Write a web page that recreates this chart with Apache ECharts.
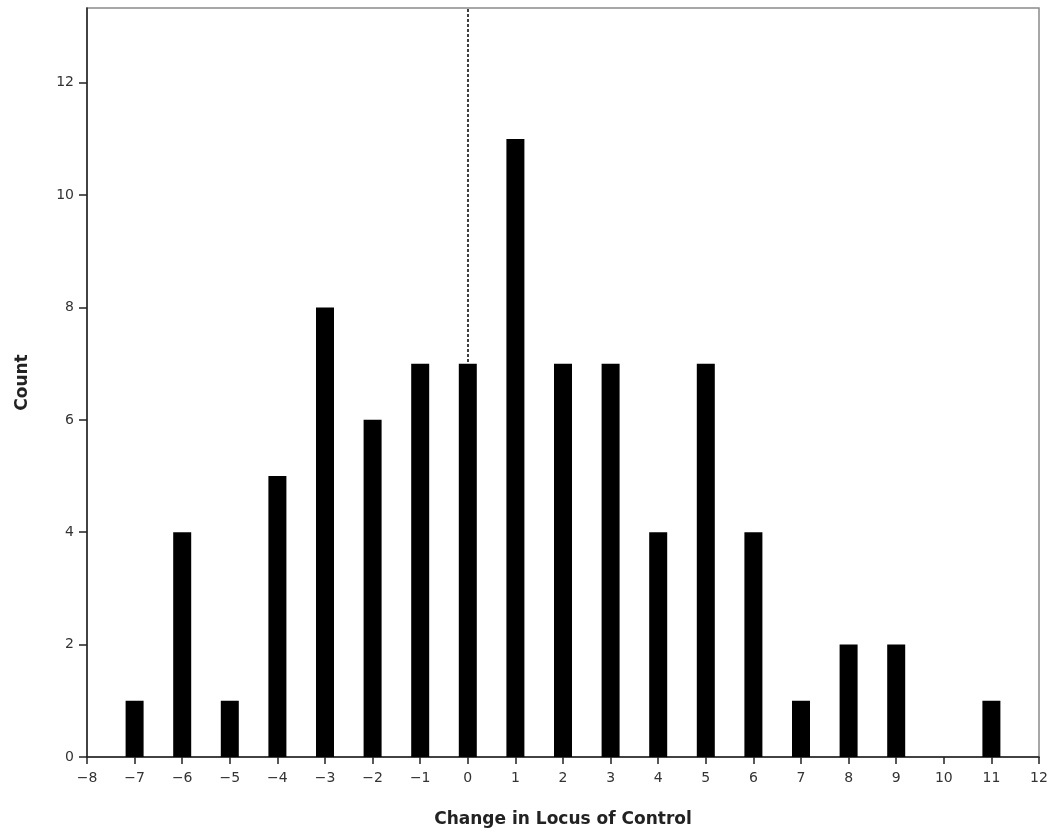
<!DOCTYPE html>
<html>
<head>
<meta charset="utf-8">
<script src="https://cdn.jsdelivr.net/npm/echarts@6/dist/echarts.min.js"></script>
<style>html,body{margin:0;padding:0;background:#fff}#c{width:1055px;height:838px}</style>
</head>
<body>
<div id="c"></div>
<script>
const categories = [-7,-6,-5,-4,-3,-2,-1,0,1,2,3,4,5,6,7,8,9,10,11];
const counts = [1,4,1,5,8,6,7,7,11,7,7,4,7,4,1,2,2,0,1];
const xTicks = [-8,-7,-6,-5,-4,-3,-2,-1,0,1,2,3,4,5,6,7,8,9,10,11,12];
const yTicks = [0,2,4,6,8,10,12];

const chart = echarts.init(document.getElementById('c'));
const font = 'DejaVu Sans, Verdana, sans-serif';
chart.setOption({
  animation: false,
  grid: {left: 87, right: 16, top: 8, bottom: 81, show: true, borderColor: '#8a8a8a', borderWidth: 1.5},
  xAxis: {
    type: 'value', min: -8, max: 12, interval: 1,
    name: 'Change in Locus of Control', nameLocation: 'middle', nameGap: 54,
    nameTextStyle: {fontFamily: font, fontWeight: 'bold', fontSize: 17, color: '#222'},
    axisLine: {show: true, onZero: false, lineStyle: {color: '#222', width: 1.5}},
    axisTick: {show: true, length: 7, lineStyle: {color: '#222', width: 1.5}},
    axisLabel: {fontFamily: font, fontSize: 14, color: '#333', margin: 14,
      formatter: v => xTicks.includes(v) ? String(v).replace('-', '\u2212') : ''},
    splitLine: {show: false}
  },
  yAxis: {
    type: 'value', min: 0, max: 13.33, interval: 2,
    name: 'Count', nameLocation: 'middle', nameGap: 56, nameRotate: 90,
    nameTextStyle: {fontFamily: font, fontWeight: 'bold', fontSize: 17, color: '#222'},
    axisLine: {show: true, onZero: false, lineStyle: {color: '#222', width: 1.5}},
    axisTick: {show: true, length: 8, lineStyle: {color: '#222', width: 1.5}, customValues: yTicks},
    axisLabel: {fontFamily: font, fontSize: 14, color: '#333', margin: 13, customValues: yTicks},
    splitLine: {show: false}
  },
  series: [{
    type: 'bar',
    data: categories.map((c, i) => [c, counts[i]]),
    barWidth: 18,
    itemStyle: {color: '#000'},
    markLine: {
      silent: true, symbol: 'none', z: 1,
      label: {show: false},
      lineStyle: {color: '#000', type: [3, 2], width: 1.5},
      data: [{xAxis: 0}]
    }
  }]
});
</script>
</body>
</html>
